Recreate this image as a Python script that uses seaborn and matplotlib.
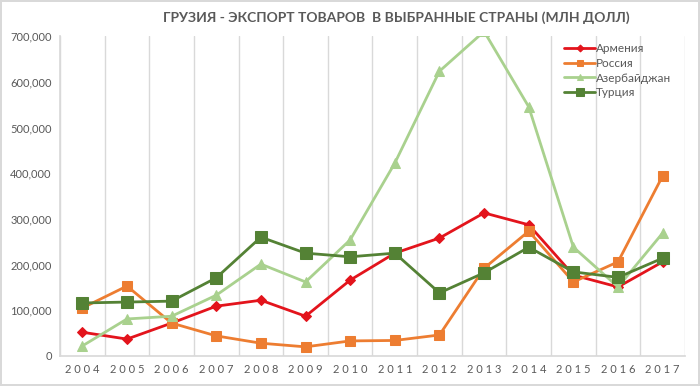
import numpy as np
import pandas as pd
import matplotlib
matplotlib.use("Agg")
import matplotlib.pyplot as plt
import seaborn as sns
from matplotlib.ticker import FuncFormatter, FixedLocator

# Данные (млн долл)
years = [2004, 2005, 2006, 2007, 2008, 2009, 2010, 2011, 2012, 2013, 2014, 2015, 2016, 2017]
armenia = [52000, 37000, 72000, 109000, 122000, 87000, 166000, 225000, 258000, 313000, 287000, 177000, 151000, 206000]
russia = [105000, 153000, 72000, 44000, 28000, 20000, 33000, 34000, 46000, 192000, 273000, 162000, 206000, 394000]
azerbaijan = [22000, 81000, 87000, 133000, 201000, 162000, 254000, 422000, 623000, 710000, 545000, 238000, 151000, 269000]
turkey = [116000, 118000, 120000, 171000, 260000, 225000, 217000, 225000, 138000, 182000, 238000, 184000, 172000, 214000]

series_names = ["Армения", "Россия", "Азербайджан", "Турция"]
series_values = [armenia, russia, azerbaijan, turkey]
colors = ["#E3141C", "#ED7D31", "#A9D18E", "#548235"]
markers = ["D", "s", "^", "s"]
msizes = [5, 6.5, 6.5, 8.5]

df = pd.DataFrame({
    "pos": np.tile(np.arange(len(years)), len(series_names)),
    "Год": np.tile(years, len(series_names)),
    "Страна": np.repeat(series_names, len(years)),
    "Значение": np.concatenate(series_values),
})

sns.set_theme(style="white")
plt.rcParams["font.family"] = ["Lato", "DejaVu Sans"]

fig = plt.figure(figsize=(7, 3.86), dpi=100)
fig.patch.set_edgecolor("#D9D9D9")
fig.patch.set_linewidth(1.5)
ax = fig.add_axes([60 / 700, 30 / 386, 625 / 700, 320 / 386])

for name, col, mk, ms in zip(series_names, colors, markers, msizes):
    sub = df[df["Страна"] == name]
    sns.lineplot(data=sub, x="pos", y="Значение", ax=ax, color=col, marker=mk,
                 markersize=ms, markeredgecolor=col, linewidth=2, label=name)

ax.set_xlim(-0.5, len(years) - 0.5)
ax.set_ylim(0, 700000)
ax.set_xticks(np.arange(len(years)))
ax.set_xticklabels([" ".join(str(y)) for y in years])
ax.xaxis.set_minor_locator(FixedLocator(np.arange(-0.5, len(years), 1.0)))
ax.grid(which="minor", axis="x", color="#D9D9D9", linewidth=1)
ax.grid(which="major", axis="x", visible=False)
ax.tick_params(axis="x", which="major", length=0, pad=6, labelsize=8, colors="#595959")
ax.tick_params(axis="x", which="minor", length=4, color="#D9D9D9")
ax.tick_params(axis="y", length=0, labelsize=8, colors="#595959", pad=6)
ax.yaxis.set_major_formatter(FuncFormatter(lambda v, p: f"{int(v):,}"))
ax.set_yticks(np.arange(0, 700001, 100000))

for side in ["top", "right"]:
    ax.spines[side].set_visible(False)
ax.spines["left"].set_color("#D9D9D9")
ax.spines["bottom"].set_color("#D9D9D9")

ax.set_xlabel("")
ax.set_ylabel("")

leg = ax.legend(loc="upper right", bbox_to_anchor=(0.995, 1.01), frameon=False,
                fontsize=8.5, handlelength=2.6, handletextpad=0.1, labelspacing=0.3,
                markerscale=0.7, labelcolor="#595959")

fig.text(0.566, 0.955, "ГРУЗИЯ - ЭКСПОРТ ТОВАРОВ  В ВЫБРАННЫЕ СТРАНЫ (МЛН ДОЛЛ)",
         ha="center", va="center", fontsize=10, fontweight="bold", color="#595959")

fig.savefig("out.png", dpi=100)
